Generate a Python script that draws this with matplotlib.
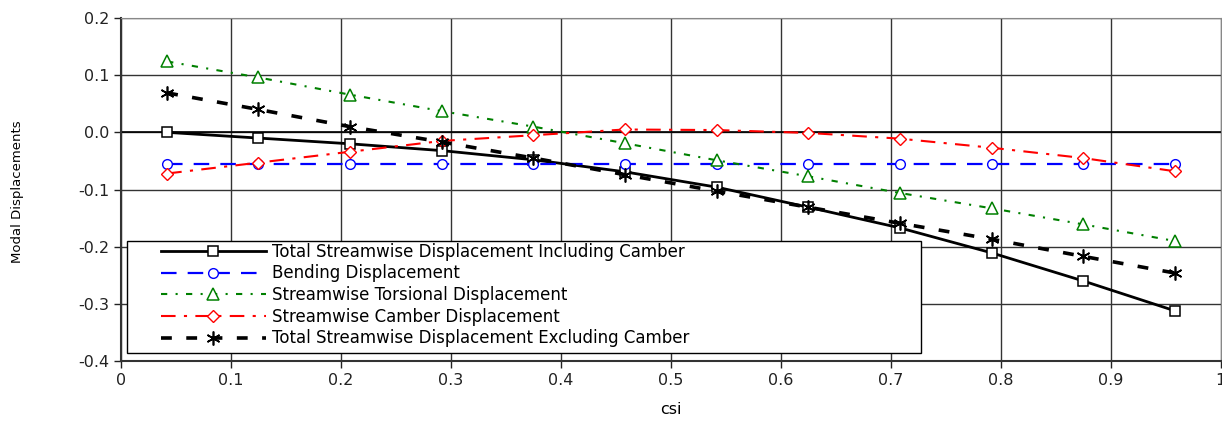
import numpy as np
import matplotlib
matplotlib.use('Agg')
import matplotlib.pyplot as plt
from matplotlib.patches import Rectangle

plt.rcParams['font.family'] = ['DejaVu Sans']

# positions along the span (csi)
csi = [0.042, 0.125, 0.208, 0.292, 0.375, 0.458, 0.542, 0.625, 0.708, 0.792, 0.875, 0.958]

total_incl = [0.000, -0.010, -0.020, -0.032, -0.048, -0.069, -0.096, -0.131, -0.167, -0.211, -0.260, -0.312]
bending = [-0.055, -0.055, -0.055, -0.055, -0.055, -0.055, -0.055, -0.055, -0.055, -0.055, -0.055, -0.055]
torsion = [0.124, 0.096, 0.066, 0.037, 0.010, -0.019, -0.049, -0.077, -0.106, -0.133, -0.161, -0.190]
camber = [-0.072, -0.053, -0.034, -0.015, -0.005, 0.005, 0.004, -0.001, -0.011, -0.027, -0.045, -0.068]
total_excl = [0.069, 0.040, 0.010, -0.017, -0.045, -0.074, -0.103, -0.131, -0.159, -0.187, -0.217, -0.246]

labels = ['Total Streamwise Displacement Including Camber',
          'Bending Displacement',
          'Streamwise Torsional Displacement',
          'Streamwise Camber Displacement',
          'Total Streamwise Displacement Excluding Camber']

fig = plt.figure(figsize=(12.22, 4.21), dpi=100)
ax = fig.add_axes([0.099, 0.1425, 0.900, 0.8147])

ax.plot(csi, total_incl, color='black', lw=2, marker='s', ms=7.5, mfc='white', mec='black', mew=1.1,
        label=labels[0], zorder=3)
ax.plot(csi, bending, color='#0000ff', lw=1.6, dashes=(7, 5), marker='o', ms=7, mfc='white', mec='#0000ff',
        mew=1.0, label=labels[1], zorder=3)
ax.plot(csi, torsion, color='green', lw=1.5, dashes=(3, 4, 1, 4), marker='^', ms=9, mfc='white', mec='green',
        mew=1.1, label=labels[2], zorder=3)
ax.plot(csi, camber, color='red', lw=1.5, dashes=(7, 4, 1.5, 4), marker='D', ms=6.5, mfc='white', mec='red',
        mew=1.0, label=labels[3], zorder=3)
ax.plot(csi, total_excl, color='black', lw=2.6, dashes=(3, 4), marker=(6, 2, 0), ms=10, mec='black', mew=1.2,
        label=labels[4], zorder=4)

ax.set_xlim(0, 1)
ax.set_ylim(-0.4, 0.2)
ax.set_xticks(np.arange(0, 1.01, 0.1))
ax.set_xticklabels(['0', '0.1', '0.2', '0.3', '0.4', '0.5', '0.6', '0.7', '0.8', '0.9', '1'])
ax.set_yticks(np.arange(-0.4, 0.21, 0.1))
ax.set_yticklabels(['-0.4', '-0.3', '-0.2', '-0.1', '0.0', '0.1', '0.2'])
ax.tick_params(direction='out', length=5, width=1, labelsize=11.5, colors='#222222')
ax.grid(True, color='#333333', lw=1)
ax.axhline(0, color='black', lw=1.2, zorder=1)
ax.set_axisbelow(True)
for s in ['top', 'right']:
    ax.spines[s].set_color('#888888')
for s in ['left', 'bottom']:
    ax.spines[s].set_color('#333333')
    ax.spines[s].set_linewidth(1.5)

ax.set_xlabel('csi', fontsize=11.5, labelpad=10)
ax.set_ylabel('Modal Displacements', fontsize=9.5)
ax.yaxis.set_label_coords(-0.088, 0.494)

# legend box
ax.add_patch(Rectangle((0.0055, 0.023), 0.722, 0.327, transform=ax.transAxes,
                       facecolor='white', edgecolor='black', lw=1, zorder=5))
leg = ax.legend(loc='lower left', bbox_to_anchor=(0.03, 0.02), frameon=False, fontsize=12,
                handlelength=6.3, handletextpad=0.4, labelspacing=0.22, borderaxespad=0)
leg.set_zorder(6)

fig.savefig('out.png', dpi=100)
